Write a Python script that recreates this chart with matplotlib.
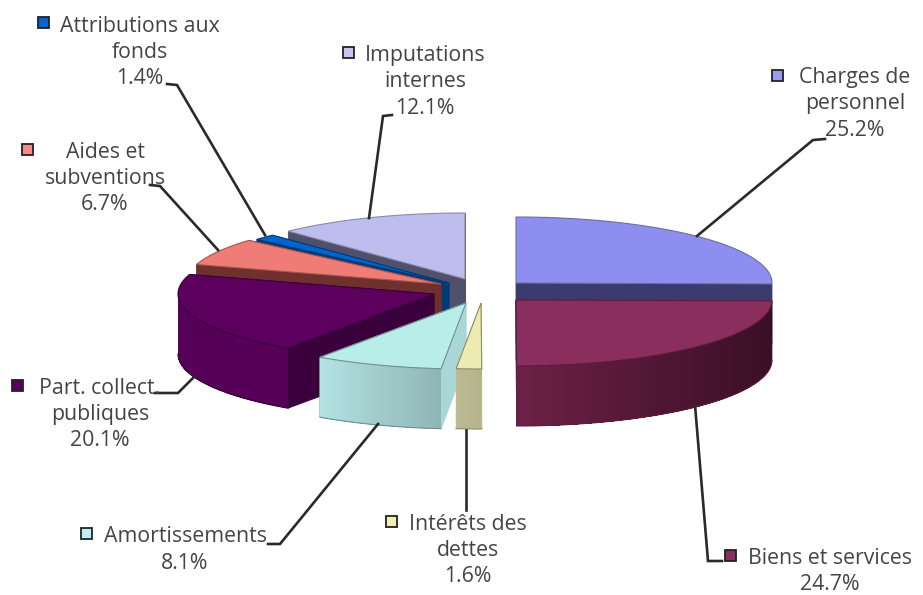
import numpy as np
import matplotlib
matplotlib.use("Agg")
import matplotlib.pyplot as plt
from matplotlib.patches import Polygon, Rectangle
from matplotlib.colors import to_rgb

# ---- data ----
categories = ["Charges de\npersonnel", "Biens et services", "Intérêts des\ndettes", "Amortissements",
              "Part. collect.\npubliques", "Aides et\nsubventions", "Attributions aux\nfonds", "Imputations\ninternes"]
values = [25.2, 24.7, 1.6, 8.1, 20.1, 6.7, 1.4, 12.1]

# ---- style / layout (pixel space of the figure) ----
centers = [(516, 283), (516, 300), (481, 303), (466, 303), (434, 294), (441, 284), (449, 283), (465, 279)]
top_cols = ["#8E8EF0", "#8A2E5E", "#EEEAB4", "#B9EDEA", "#5C005E", "#F07C78", "#0066CC", "#BDBDEE"]
cut_cols = ["#3B3B6E", "#3B3B6E", "#D8D6A0", "#A9D6D6", "#3A003C", "#70302E", "#003B78", "#50506C"]
side_l   = ["#3B3B6E", "#6E2148", "#BDBB92", "#B4E2E2", "#560058", "#70302E", "#003B78", "#50506C"]
side_r   = ["#3B3B6E", "#3A0F26", "#B5B38C", "#8FB6B6", "#560058", "#70302E", "#003B78", "#50506C"]
swatch   = ["#9A9AF0", "#8A2E5E", "#F2EEB8", "#BEF0EE", "#5C005E", "#F58A88", "#0066CC", "#C6C6F0"]
edge_cols = ["#6E6E9A", "#5E1C40", "#8E8C60", "#6E9090", "#3A003C", "#A85450", "#003B78", "#8A8AA8"]
RX, RY, DEPTH = 256, 66, 60
draw_order = [7, 6, 5, 4, 3, 2, 0, 1]

label_pos = [(855, 77), (830, 558), (468, 524), (185, 537), (100, 388), (105, 152), (140, 26), (425, 55)]
marker_pos = [(777, 75), (730, 555), (391, 521), (86, 533), (17, 385), (27, 149), (43, 22), (348, 52)]
leaders = [[(825, 139), (813, 140), (697, 236)],
           [(722, 561), (708, 561), (695, 405)],
           [(466, 510), (466, 430)],
           [(268, 544), (280, 544), (378, 424)],
           [(155, 393), (178, 393), (194, 377)],
           [(150, 185), (160, 186), (218, 250)],
           [(167, 84), (177, 85), (265, 235)],
           [(392, 115), (383, 116), (369, 218)]]
LINE_H = 26.5

plt.rcParams["font.family"] = ["Open Sans", "DejaVu Sans"]
fig = plt.figure(figsize=(9.23, 5.95), dpi=100, facecolor="white")
ax = fig.add_axes([0, 0, 1, 1])
ax.set_xlim(0, 923)
ax.set_ylim(595, 0)
ax.axis("off")

total = sum(values)
edges = np.concatenate([[0], np.cumsum(values)]) * 2 * np.pi / total


def pt(c, t, dy=0):
    return (c[0] + RX * np.sin(t), c[1] - RY * np.cos(t) + dy)


def mix(a, b, f):
    a, b = np.array(to_rgb(a)), np.array(to_rgb(b))
    return tuple(a + (b - a) * f)


for i in draw_order:
    c = centers[i]
    t0, t1 = edges[i], edges[i + 1]
    z = 3 + draw_order.index(i)
    # flat cut faces
    for t in (t1, t0):
        p = pt(c, t)
        poly = [c, p, (p[0], p[1] + DEPTH), (c[0], c[1] + DEPTH)]
        ax.add_patch(Polygon(poly, closed=True, fc=cut_cols[i], ec=cut_cols[i], lw=0.6, zorder=z))
    # outer rim with a left-to-right shade; each band runs to the rim's end so no seams show
    a = max(t0, np.pi / 2)
    b = min(t1, 3 * np.pi / 2)
    if b > a:
        ts = np.linspace(a, b, 50)
        xs = np.array([pt(c, t)[0] for t in ts])
        xmin, xmax = xs.min(), xs.max()
        for k in range(len(ts) - 1):
            f = (xs[k] - xmin) / max(xmax - xmin, 1)
            col = mix(side_l[i], side_r[i], f)
            rest = ts[k:]
            poly = [pt(c, t) for t in rest] + [pt(c, t, DEPTH) for t in rest[::-1]]
            ax.add_patch(Polygon(poly, closed=True, fc=col, ec="none", zorder=z))
        outline = [pt(c, t, DEPTH) for t in ts]
        ax.plot(*zip(*outline), color=edge_cols[i], lw=0.8, zorder=z)
    # top surface
    ts = np.linspace(t0, t1, 80)
    ax.add_patch(Polygon([c] + [pt(c, t) for t in ts], closed=True, fc=top_cols[i],
                         ec=edge_cols[i], lw=0.8, zorder=z + 0.5))

# leader lines, swatches and labels
for i, name in enumerate(categories):
    ax.plot(*zip(*leaders[i]), color="#2A2A2A", lw=1.9, zorder=30, solid_joinstyle="miter")
    mx, my = marker_pos[i]
    ax.add_patch(Rectangle((mx - 5.5, my - 5.5), 11, 11, fc=swatch[i], ec="#222222", lw=1.3, zorder=31))
    lines = name.split("\n") + [f"{values[i]:.1f}%"]
    lx, ly = label_pos[i]
    for k, line in enumerate(lines):
        ax.text(lx, ly + k * LINE_H, line, ha="center", va="center", fontsize=15.3,
                color="#444444", zorder=32)

fig.savefig("out.png", dpi=100, facecolor="white")
